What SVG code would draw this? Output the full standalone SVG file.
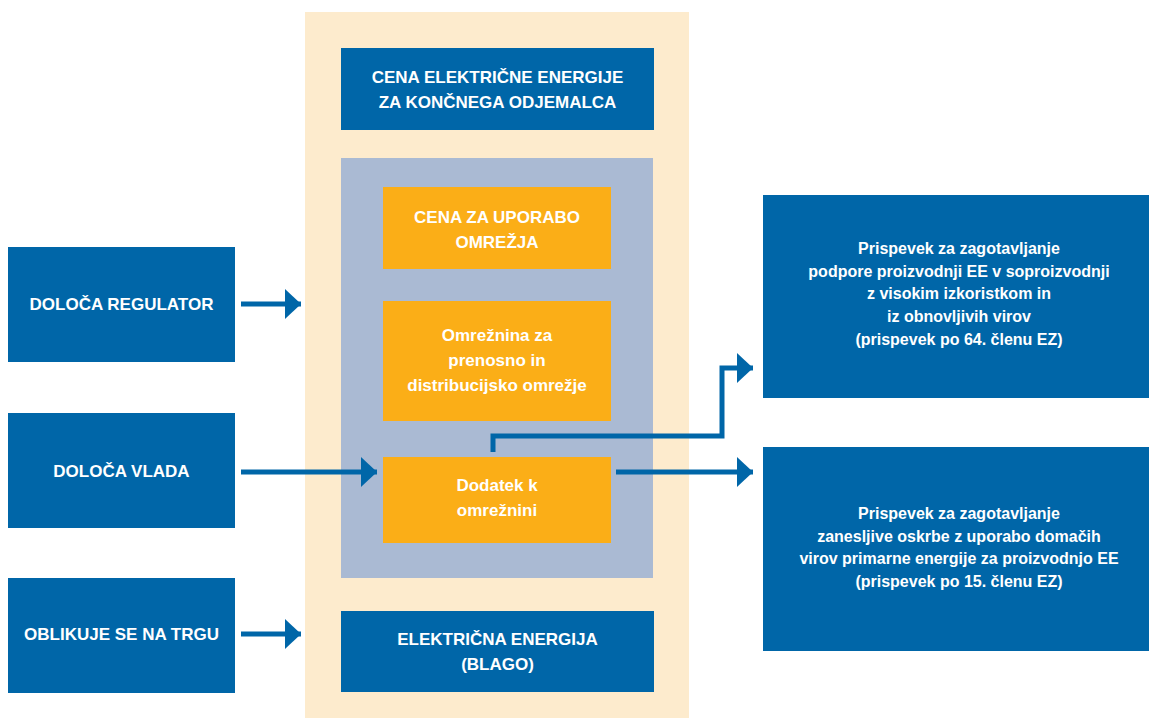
<svg xmlns="http://www.w3.org/2000/svg" width="1149" height="718" viewBox="0 0 1149 718">
<style>
.blue{fill:#0066A8}
.orange{fill:#FBAE17}
.t{font-family:"Liberation Sans",Arial,sans-serif;font-weight:bold;fill:#fff;text-anchor:middle;font-size:17px}
.s{font-family:"Liberation Sans",Arial,sans-serif;font-weight:bold;fill:#fff;text-anchor:middle;font-size:16px}
.ln{stroke:#0066A8;stroke-width:5;fill:none}
</style>
<defs>
<marker id="ah" viewBox="0 0 16 30" refX="16" refY="15" markerWidth="16" markerHeight="30" markerUnits="userSpaceOnUse" orient="auto">
<path d="M0,0 L16,15 L0,30 Z" fill="#0066A8"/>
</marker>
</defs>
<rect x="305" y="12" width="384" height="706" fill="#FDEBCD"/>
<rect x="341" y="158" width="312" height="420" fill="#AABAD3"/>
<g id="cena-koncni">
<rect class="blue" x="341" y="48" width="313" height="82"/>
<text class="t" x="497.5" y="83">CENA ELEKTRIČNE ENERGIJE</text>
<text class="t" x="497.5" y="108">ZA KONČNEGA ODJEMALCA</text>
</g>
<g id="cena-uporaba">
<rect class="orange" x="383" y="187" width="228" height="82"/>
<text class="t" x="497" y="223">CENA ZA UPORABO</text>
<text class="t" x="497" y="248">OMREŽJA</text>
</g>
<g id="omreznina">
<rect class="orange" x="383" y="301" width="228" height="120"/>
<text class="t" x="497" y="341">Omrežnina za</text>
<text class="t" x="497" y="366">prenosno in</text>
<text class="t" x="497" y="391">distribucijsko omrežje</text>
</g>
<g id="dodatek">
<rect class="orange" x="383" y="457" width="228" height="86"/>
<text class="t" x="497" y="491">Dodatek k</text>
<text class="t" x="497" y="516">omrežnini</text>
</g>
<g id="elektricna">
<rect class="blue" x="341" y="611" width="313" height="81"/>
<text class="t" x="497.5" y="645">ELEKTRIČNA ENERGIJA</text>
<text class="t" x="497.5" y="670">(BLAGO)</text>
</g>
<g id="regulator">
<rect class="blue" x="8" y="247" width="227" height="115"/>
<text class="t" x="121.5" y="310">DOLOČA REGULATOR</text>
</g>
<g id="vlada">
<rect class="blue" x="8" y="413" width="227" height="115"/>
<text class="t" x="121.5" y="477">DOLOČA VLADA</text>
</g>
<g id="trg">
<rect class="blue" x="8" y="578" width="227" height="115"/>
<text class="t" x="121.5" y="640">OBLIKUJE SE NA TRGU</text>
</g>
<g id="prispevek64">
<rect class="blue" x="763" y="195" width="386" height="203"/>
<text class="s" x="959" y="254">Prispevek za zagotavljanje</text>
<text class="s" x="959" y="277">podpore proizvodnji EE v soproizvodnji</text>
<text class="s" x="959" y="299">z visokim izkoristkom in</text>
<text class="s" x="959" y="322">iz obnovljivih virov</text>
<text class="s" x="959" y="345">(prispevek po 64. členu EZ)</text>
</g>
<g id="prispevek15">
<rect class="blue" x="763" y="447" width="386" height="204"/>
<text class="s" x="959" y="519">Prispevek za zagotavljanje</text>
<text class="s" x="959" y="542">zanesljive oskrbe z uporabo domačih</text>
<text class="s" x="959" y="564">virov primarne energije za proizvodnjo EE</text>
<text class="s" x="959" y="587">(prispevek po 15. členu EZ)</text>
</g>
<g id="connectors">
<line class="ln" x1="241" y1="304" x2="301" y2="304" marker-end="url(#ah)"/>
<line class="ln" x1="241" y1="472" x2="377" y2="472" marker-end="url(#ah)"/>
<line class="ln" x1="241" y1="634" x2="301" y2="634" marker-end="url(#ah)"/>
<line class="ln" x1="616" y1="472" x2="753" y2="472" marker-end="url(#ah)"/>
<polyline class="ln" points="493,452 493,436 722,436 722,368 753,368" marker-end="url(#ah)"/>
</g>
</svg>
